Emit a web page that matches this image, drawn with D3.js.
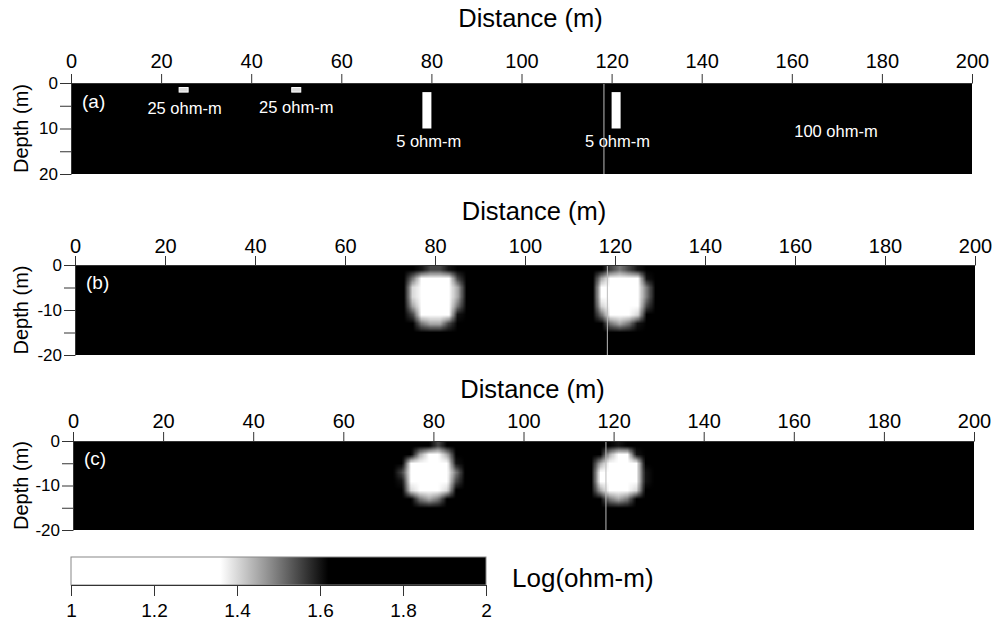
<!DOCTYPE html>
<html>
<head>
<meta charset="utf-8">
<script src="https://cdn.jsdelivr.net/npm/d3@7"></script>
<style>
  body { margin: 0; background: #fff; }
  svg { font-family: "Liberation Sans", Arial, sans-serif; }
  .axis path, .axis line { stroke: #333; }
  .axis text { fill: #000; }
</style>
</head>
<body>
<div id="chart"></div>
<script>
// Dati
let distanceTicks = [0, 20, 40, 60, 80, 100, 120, 140, 160, 180, 200];
let depthTicks = [0, 5, 10, 15, 20];
let depthLabelsA = {0: '0', 10: '10', 20: '20'};
let depthLabelsBC = {0: '0', 10: '-10', 20: '-20'};
let colourTicks = [1, 1.2, 1.4, 1.6, 1.8, 2];

// modello sintetico (a): resistività di fondo e corpi anomali
let backgroundRho = 100;
let bodyX0 = [24, 49, 78, 120];
let bodyX1 = [26, 51, 80, 122];
let bodyZ0 = [1, 1, 2, 2];
let bodyZ1 = [2, 2, 10, 10];
let bodyRho = [25, 25, 5, 5];

let modelLabels = ['25 ohm-m', '25 ohm-m', '5 ohm-m', '5 ohm-m', '100 ohm-m'];
let modelLabelX = [25.2, 50, 79.4, 121.3, 169.8];
let modelLabelZ = [6.9, 6.5, 14, 14, 11.9];

// inversioni (b) e (c): celle 2 m x 2 m, log(ohm-m), finestre a 72 m e 114 m
let blobCellSize = 2;
let blobStart = [72, 114];

let inversionB1 = [
  [2.0, 1.8, 1.6, 1.55, 1.55, 1.6, 1.8, 2.0],
  [1.9, 1.5, 1.15, 1.05, 1.05, 1.2, 1.55, 1.95],
  [1.8, 1.4, 1.0, 1.0, 1.0, 1.05, 1.45, 1.9],
  [1.8, 1.4, 1.0, 1.0, 1.0, 1.05, 1.45, 1.9],
  [1.85, 1.45, 1.1, 1.0, 1.0, 1.15, 1.5, 1.95],
  [1.9, 1.55, 1.3, 1.25, 1.25, 1.35, 1.6, 2.0],
  [2.0, 1.7, 1.5, 1.45, 1.45, 1.55, 1.75, 2.0],
  [2.0, 1.9, 1.75, 1.7, 1.7, 1.8, 1.95, 2.0]
];
let inversionB2 = [
  [1.95, 1.7, 1.55, 1.5, 1.55, 1.6, 1.8, 2.0],
  [1.8, 1.45, 1.1, 1.0, 1.05, 1.25, 1.6, 1.95],
  [1.75, 1.35, 1.0, 1.0, 1.0, 1.15, 1.5, 1.9],
  [1.75, 1.35, 1.0, 1.0, 1.0, 1.15, 1.5, 1.9],
  [1.8, 1.4, 1.05, 1.0, 1.05, 1.2, 1.55, 1.95],
  [1.85, 1.5, 1.25, 1.25, 1.3, 1.4, 1.65, 2.0],
  [1.95, 1.7, 1.5, 1.45, 1.5, 1.6, 1.8, 2.0],
  [2.0, 1.9, 1.75, 1.7, 1.75, 1.85, 1.95, 2.0]
];
let inversionC1 = [
  [2.0, 1.95, 1.85, 1.65, 1.55, 1.8, 2.0, 2.0],
  [1.95, 1.7, 1.45, 1.25, 1.25, 1.45, 1.8, 2.0],
  [1.7, 1.3, 1.0, 1.0, 1.0, 1.15, 1.6, 1.95],
  [1.55, 1.1, 1.0, 1.0, 1.0, 1.05, 1.5, 1.95],
  [1.6, 1.15, 1.0, 1.0, 1.0, 1.1, 1.55, 1.95],
  [1.8, 1.4, 1.15, 1.05, 1.1, 1.4, 1.8, 2.0],
  [1.95, 1.7, 1.5, 1.45, 1.5, 1.7, 1.95, 2.0],
  [2.0, 1.95, 1.85, 1.8, 1.85, 1.95, 2.0, 2.0]
];
let inversionC2 = [
  [2.0, 1.95, 1.8, 1.6, 1.75, 1.95, 2.0, 2.0],
  [1.95, 1.75, 1.45, 1.25, 1.35, 1.6, 1.9, 2.0],
  [1.8, 1.45, 1.05, 1.0, 1.05, 1.25, 1.7, 1.95],
  [1.7, 1.25, 1.0, 1.0, 1.0, 1.15, 1.6, 1.95],
  [1.7, 1.25, 1.0, 1.0, 1.0, 1.15, 1.6, 1.95],
  [1.8, 1.45, 1.15, 1.05, 1.15, 1.4, 1.8, 2.0],
  [1.95, 1.7, 1.5, 1.45, 1.5, 1.7, 1.95, 2.0],
  [2.0, 1.95, 1.85, 1.8, 1.85, 1.95, 2.0, 2.0]
];

// riga chiara della scansione (presente in tutti i pannelli)
let scanLineX = 118.3;


// Scala dei grigi: bianco fino a ~1.36, nero da ~1.62
let colour = d3.scaleLinear()
  .domain([1, 1.36, 1.47, 1.62, 2])
  .range(['#ffffff', '#ffffff', '#969696', '#000000', '#000000'])
  .clamp(true);

let svg = d3.select('#chart').append('svg').attr('width', 995).attr('height', 621);

// posizione dei tre pannelli
let panels = [
  {id: 'a', left: 71, right: 972, top: 83, bottom: 174, labelGap: 6, titleY: 27, labels: depthLabelsA},
  {id: 'b', left: 75, right: 975, top: 265, bottom: 355, labelGap: 3, titleY: 220, labels: depthLabelsBC},
  {id: 'c', left: 73, right: 974, top: 441, bottom: 530, labelGap: 4, titleY: 398, labels: depthLabelsBC}
];


function drawAxes(g, p, x, y) {
  g.append('g').attr('class', 'axis')
    .attr('transform', `translate(0,${p.top})`)
    .call(d3.axisTop(x).tickValues(distanceTicks).tickSize(9).tickSizeOuter(0).tickPadding(p.labelGap))
    .call(a => a.select('.domain').attr('stroke', '#999'))
    .selectAll('text').style('font-size', '20px');

  g.append('g').attr('class', 'axis')
    .attr('transform', `translate(${p.left},0)`)
    .call(d3.axisLeft(y).tickValues(depthTicks).tickSize(11).tickSizeOuter(0).tickPadding(2)
      .tickFormat(d => p.labels[d] || ''))
    .call(a => a.select('.domain').attr('stroke', '#999'))
    .selectAll('text').style('font-size', '17px');

  g.append('text')
    .attr('x', (p.left + p.right) / 2 + 9)
    .attr('y', p.titleY)
    .attr('text-anchor', 'middle')
    .style('font-size', '25.5px')
    .text('Distance (m)');

  g.append('text')
    .attr('transform', `translate(28,${(p.top + p.bottom) / 2}) rotate(-90)`)
    .attr('text-anchor', 'middle')
    .style('font-size', '20px')
    .text('Depth (m)');
}


function drawPanelLetter(g, p, x, y) {
  g.append('text')
    .attr('x', x(0) + 11)
    .attr('y', y(5.4))
    .attr('fill', '#fff')
    .style('font-size', '19px')
    .text(`(${p.id})`);
}


// Pannello (a): modello
function drawModel(g, p, x, y) {
  g.append('rect')
    .attr('x', x(0)).attr('y', y(0))
    .attr('width', x(200) - x(0)).attr('height', y(20) - y(0))
    .attr('fill', colour(Math.log10(backgroundRho)));

  g.selectAll('.body')
    .data(bodyRho.map((rho, i) => ({rho, x0: bodyX0[i], x1: bodyX1[i], z0: bodyZ0[i], z1: bodyZ1[i]})))
    .enter()
    .append('rect')
    .attr('class', 'body')
    .attr('x', d => x(d.x0)).attr('y', d => y(d.z0))
    .attr('width', d => x(d.x1) - x(d.x0)).attr('height', d => y(d.z1) - y(d.z0))
    .attr('fill', d => colour(Math.log10(d.rho)))
    .attr('stroke', d => d.rho > 10 ? '#fff' : 'none')
    .attr('stroke-width', 1);

  g.selectAll('.model-label')
    .data(modelLabels)
    .enter()
    .append('text')
    .attr('class', 'model-label')
    .attr('x', (d, i) => x(modelLabelX[i]))
    .attr('y', (d, i) => y(modelLabelZ[i]))
    .attr('text-anchor', 'middle')
    .attr('fill', '#fff')
    .style('font-size', '16.5px')
    .text(d => d);
}


// Pannelli (b) e (c): inversione, griglia su canvas poi ingrandita (lisciata dal browser)
function drawInversion(g, p, x, y, blobs) {
  let nx = 200 / blobCellSize, nz = 20 / blobCellSize;
  let canvas = document.createElement('canvas');
  canvas.width = nx;
  canvas.height = nz;
  let ctx = canvas.getContext('2d');
  ctx.fillStyle = colour(Math.log10(backgroundRho));
  ctx.fillRect(0, 0, nx, nz);

  blobs.forEach((grid, k) => {
    let col0 = blobStart[k] / blobCellSize;
    grid.forEach((row, j) => row.forEach((v, i) => {
      ctx.fillStyle = colour(v);
      ctx.fillRect(col0 + i, j, 1, 1);
    }));
  });

  g.append('image')
    .attr('href', canvas.toDataURL())
    .attr('x', x(0)).attr('y', y(0))
    .attr('width', x(200) - x(0)).attr('height', y(20) - y(0))
    .attr('preserveAspectRatio', 'none')
    .style('image-rendering', 'auto');
}


panels.forEach(p => {
  let x = d3.scaleLinear().domain([0, 200]).range([p.left, p.right]);
  let y = d3.scaleLinear().domain([0, 20]).range([p.top, p.bottom]);
  let g = svg.append('g');

  if (p.id === 'a') drawModel(g, p, x, y);
  if (p.id === 'b') drawInversion(g, p, x, y, [inversionB1, inversionB2]);
  if (p.id === 'c') drawInversion(g, p, x, y, [inversionC1, inversionC2]);

  g.append('line')
    .attr('x1', x(scanLineX)).attr('x2', x(scanLineX))
    .attr('y1', y(0)).attr('y2', y(20))
    .attr('stroke', '#bbb').attr('stroke-width', 1);

  drawPanelLetter(g, p, x, y);
  drawAxes(g, p, x, y);
});


// Barra dei colori
let cb = {left: 71, right: 486, top: 557, bottom: 585};
let cbScale = d3.scaleLinear().domain([1, 2]).range([cb.left, cb.right]);

let gradient = svg.append('defs').append('linearGradient')
  .attr('id', 'cbGradient')
  .attr('x1', '0%').attr('x2', '100%');

gradient.selectAll('stop')
  .data(colour.domain())
  .enter()
  .append('stop')
  .attr('offset', d => `${(d - 1) * 100}%`)
  .attr('stop-color', d => colour(d));

svg.append('rect')
  .attr('x', cb.left).attr('y', cb.top)
  .attr('width', cb.right - cb.left).attr('height', cb.bottom - cb.top)
  .attr('fill', 'url(#cbGradient)')
  .attr('stroke', '#888').attr('stroke-width', 1);

svg.append('g').attr('class', 'axis')
  .attr('transform', `translate(0,${cb.bottom})`)
  .call(d3.axisBottom(cbScale).tickValues(colourTicks).tickSize(11).tickSizeOuter(0).tickPadding(8)
    .tickFormat(d3.format('')))
  .selectAll('text').style('font-size', '19px');

svg.append('text')
  .attr('x', 512).attr('y', 587)
  .style('font-size', '26px')
  .text('Log(ohm-m)');
</script>
</body>
</html>
